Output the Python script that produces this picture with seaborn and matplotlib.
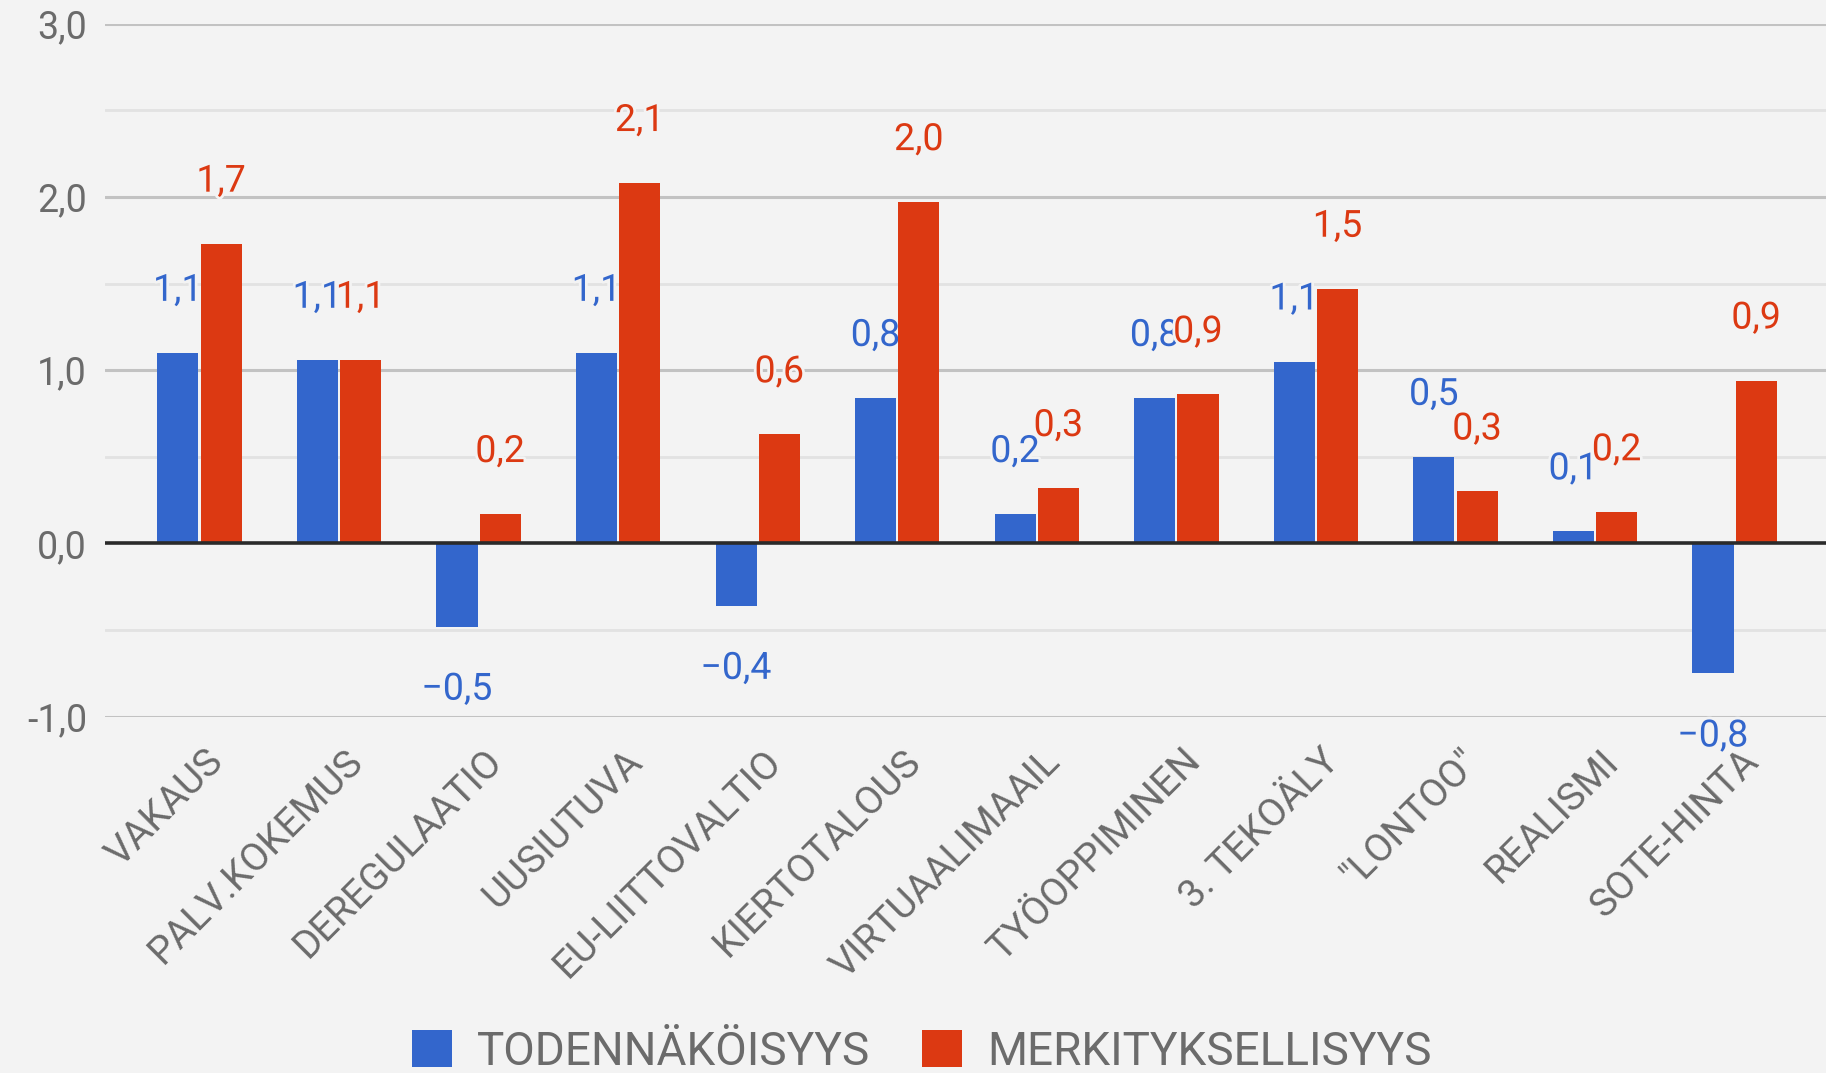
import matplotlib
matplotlib.use("Agg")
import matplotlib.pyplot as plt
import matplotlib.patheffects as pe
from matplotlib.patches import Patch
from matplotlib.transforms import ScaledTranslation
import seaborn as sns
import pandas as pd

categories = ["VAKAUS", "PALV.KOKEMUS", "DEREGULAATIO", "UUSIUTUVA", "EU-LIITTOVALTIO",
              "KIERTOTALOUS", "VIRTUAALIMAAIL", "TYÖOPPIMINEN", "3. TEKOÄLY", "\"LONTOO\"",
              "REALISMI", "SOTE-HINTA"]
todennakoisyys = [1.10, 1.06, -0.48, 1.10, -0.36, 0.84, 0.17, 0.84, 1.05, 0.50, 0.07, -0.75]
merkityksellisyys = [1.73, 1.06, 0.17, 2.08, 0.63, 1.97, 0.32, 0.86, 1.47, 0.30, 0.18, 0.94]
series_names = ["TODENNÄKÖISYYS", "MERKITYKSELLISYYS"]
yticks = [-1.0, 0.0, 1.0, 2.0, 3.0]

BG = "#f3f3f3"
BLUE = "#3366cc"
RED = "#dc3912"
TXT = "#6b6b6b"

sns.set_theme(style="white")
plt.rcParams["font.family"] = ["Roboto", "DejaVu Sans"]

df = pd.DataFrame({
    "cat": categories * 2,
    "val": todennakoisyys + merkityksellisyys,
    "series": [series_names[0]] * len(categories) + [series_names[1]] * len(categories),
})

fig = plt.figure(figsize=(18.26, 10.73), dpi=100, facecolor=BG)
ax = fig.add_axes([0.0575, 0.332, 0.9425, 0.646])
ax.set_facecolor(BG)

sns.barplot(data=df, x="cat", y="val", hue="series", order=categories,
            hue_order=series_names, palette=[BLUE, RED], width=0.62, gap=0.05,
            errorbar=None, ax=ax, legend=False, saturation=1.0)

ax.set_xlim(-0.677, len(categories) - 1 + 0.655)
ax.set_ylim(-1.0, 3.0)

# grid lines
for y in [-1, 1, 2, 3]:
    ax.axhline(y, color="#c2c2c2", lw=2.2, zorder=0.5)
for y in [-0.5, 0.5, 1.5, 2.5]:
    ax.axhline(y, color="#e2e2e2", lw=2.0, zorder=0.5)
ax.axhline(0, color="#2a2a2a", lw=2.6, zorder=6)

for s in ax.spines.values():
    s.set_visible(False)

ax.set_yticks(yticks)
ax.set_yticklabels([f"{v:.1f}".replace(".", ",") for v in yticks], color=TXT, fontsize=27)
ax.tick_params(axis="y", length=0, pad=13)
ax.tick_params(axis="x", length=0, pad=0)
ax.set_xticks(range(len(categories)))
ax.set_xticklabels(categories, rotation=45, ha="right", va="center",
                   rotation_mode="anchor", color=TXT, fontsize=28)
off = ScaledTranslation(13 / 72, -28 / 72, fig.dpi_scale_trans)
for lab in ax.get_xticklabels():
    lab.set_transform(lab.get_transform() + off)
ax.set_xlabel("")
ax.set_ylabel("")

# z-order & labels
halo = [pe.withStroke(linewidth=4, foreground=BG)]
for i, (cont, col) in enumerate(zip(ax.containers, [BLUE, RED])):
    base_z = 2 + 2 * i
    for bar in cont:
        bar.set_zorder(base_z)
        bar.set_linewidth(0)
    vals = todennakoisyys if i == 0 else merkityksellisyys
    for bar, v in zip(cont, vals):
        xc = bar.get_x() + bar.get_width() / 2
        txt = f"{v:.1f}".replace(".", ",").replace("-", "\u2212")
        dy = 45 if v >= 0 else -45
        t = ax.annotate(txt, (xc, v), xytext=(0, dy), textcoords="offset points",
                        ha="center", va="center", color=col, fontsize=27,
                        zorder=base_z + 1, annotation_clip=False)
        t.set_path_effects(halo)

handles = [Patch(facecolor=BLUE, edgecolor="none"), Patch(facecolor=RED, edgecolor="none")]
fig.legend(handles, series_names, loc="center", bbox_to_anchor=(0.505, 0.020),
           ncol=2, frameon=False, fontsize=33, labelcolor=TXT, handlelength=0.87,
           handleheight=0.85, handletextpad=0.55, columnspacing=1.13,
           borderpad=0, borderaxespad=0)

fig.savefig("out.png", dpi=100, facecolor=BG)
